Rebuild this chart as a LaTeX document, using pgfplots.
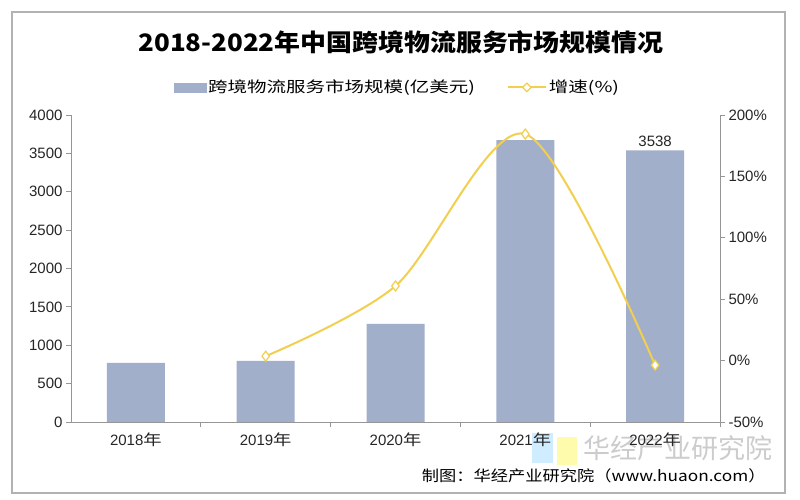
\documentclass[border=0pt]{standalone}
\usepackage{fontspec}
\setmainfont{Liberation Sans}
\newfontfamily\cjk{Noto Sans CJK SC}
\newfontfamily\cjkw[FakeStretch=1.22]{Noto Sans CJK SC}
\newfontfamily\cjkl[FakeStretch=1.3]{Noto Sans CJK SC}
\newfontfamily\cjks[FakeStretch=1.15]{Noto Sans CJK SC}
\newfontfamily\cjkt[FakeStretch=1.08]{Noto Sans CJK SC}
\usepackage{pgfplots}
\pgfplotsset{compat=1.18}
\usetikzlibrary{shapes.geometric}
\definecolor{barc}{RGB}{162,175,203}
\definecolor{linec}{RGB}{242,207,78}
\definecolor{axc}{RGB}{150,150,150}
\begin{document}
\begin{tikzpicture}[x=1bp,y=1bp]
\fill[white] (0,0) rectangle (800,500);
\draw[gray!60, line width=1.5bp] (12,7) rectangle (785,488);
\node[font=\cjkt\bfseries\fontsize{24bp}{27bp}\selectfont] at (401,458) {2018-2022年中国跨境物流服务市场规模情况};
% watermark
\fill[blue!40!cyan!30, opacity=0.6] (532,37) rectangle (553,67);
\fill[yellow!40, opacity=0.8] (557,35) rectangle (577,63);
\node[font=\cjk\fontsize{27bp}{30bp}\selectfont, text=black!20, anchor=east] at (776,52) {华经产业研究院};
\node[font=\cjks\fontsize{15bp}{17bp}\selectfont, anchor=east] at (769,24) {制图：华经产业研究院（www.huaon.com）};
\begin{axis}[
  at={(71bp,78bp)}, anchor=south west, scale only axis,
  width=649bp, height=307bp,
  xmin=-0.5, xmax=4.5, ymin=0, ymax=4000,
  axis y line*=left, axis x line*=bottom,
  axis line style={axc, line width=0.8bp, -},
  xtick={0,1,2,3,4},
  xticklabels={2018{\cjkw 年},2019{\cjkw 年},2020{\cjkw 年},2021{\cjkw 年},2022{\cjkw 年}},
  major x tick style={draw=none},
  minor xtick={0.5,1.5,2.5,3.5,4.5},
  minor x tick style={axc, line width=0.8bp},
  minor tick length=5bp,
  ytick={0,500,...,4000},
  y tick style={axc, line width=0.8bp},
  major tick length=5bp,
  tick align=outside,
  tick label style={font=\fontsize{15bp}{17bp}\selectfont, text=black!85},
  /pgf/number format/assume math mode=true,
  yticklabel style={/pgf/number format/1000 sep={}},
  xticklabel style={yshift=-2bp},
  clip=false,
]
\addplot[ybar, bar width=58bp, fill=barc, draw=none] coordinates {(0,770) (1,795) (2,1278) (3,3674) (4,3538)};
\node[above, font=\fontsize{15bp}{17bp}\selectfont, text=black!85] at (axis cs:4,3538) {3538};
\end{axis}
\begin{axis}[
  at={(71bp,78bp)}, anchor=south west, scale only axis,
  width=649bp, height=307bp,
  xmin=-0.5, xmax=4.5, ymin=-50, ymax=200,
  axis y line*=right, axis x line=none,
  axis line style={axc, line width=0.8bp, -},
  ytick={-50,0,...,200},
  yticklabel={\pgfmathprintnumber{\tick}\%},
  y tick style={axc, line width=0.8bp},
  major tick length=5bp,
  tick align=outside,
  tick label style={font=\fontsize{15bp}{17bp}\selectfont, text=black!85},
  /pgf/number format/assume math mode=true,
  clip=false,
  legend columns=2,
  legend style={at={(0.503,1.09)}, anchor=center, draw=none, fill=none,
    font=\cjkl\fontsize{15bp}{17bp}\selectfont,
    /tikz/every even column/.append style={column sep=30bp}},
]
\addlegendimage{legend image code/.code={\fill[barc] (0bp,-4.5bp) rectangle (32bp,4.5bp);}}
\addlegendentry{跨境物流服务市场规模(亿美元)}
\addplot[linec, line width=2bp, smooth, mark=diamond*, mark size=5bp,
  mark options={fill=white, draw=linec, line width=1.2bp},
  legend image code/.code={\draw[linec, line width=2bp] (0bp,0bp) -- (38bp,0bp); \node[diamond, draw=linec, fill=white, line width=1.2bp, inner sep=0pt, minimum size=9bp] at (19bp,0bp) {};}]
  coordinates {(1,3.6) (2,60.8) (3,184.5) (4,-3.7)};
\addlegendentry{增速(\%)}
\end{axis}
\end{tikzpicture}
\end{document}
